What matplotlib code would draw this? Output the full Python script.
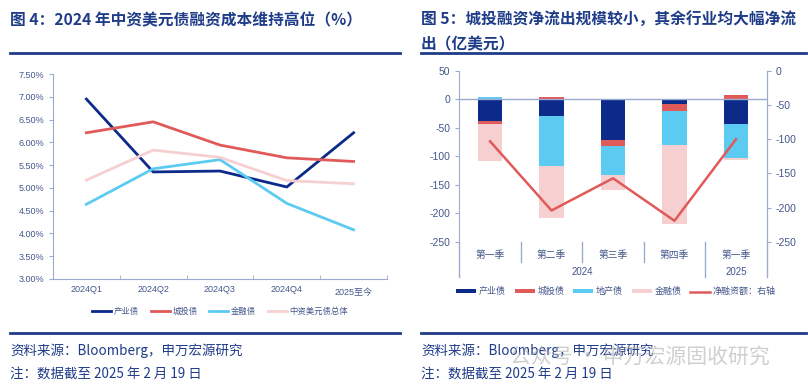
import matplotlib.pyplot as plt
import numpy as np

plt.rcParams['font.family'] = ['Noto Sans CJK SC', 'DejaVu Sans']
tick_font = ['Liberation Sans', 'Noto Sans CJK SC']

# left chart data: financing cost (%)
quarters = ["2024Q1", "2024Q2", "2024Q3", "2024Q4", "2025至今"]
chanye_cost = [6.95, 5.35, 5.37, 5.02, 6.21]
chengtou_cost = [6.21, 6.45, 5.94, 5.66, 5.58]
jinrong_cost = [4.64, 5.42, 5.62, 4.66, 4.08]
total_cost = [5.17, 5.83, 5.67, 5.16, 5.09]

# right chart data: net financing (亿美元)
seasons = ["第一季", "第二季", "第三季", "第四季", "第一季"]
years = ["2024", "2025"]
chanye_net = [-38.5, -29, -72, -8, -42.6]
chengtou_net = [-4.7, 3.5, -10.5, -13.4, 7.6]
dichan_net = [4, -87.6, -50, -59.5, -59.5]
jinrong_net = [-65, -91.7, -27, -137.8, -4.7]
net_total = [-103, -204, -157, -219, -100]

navy = "#0B2A8A"
red = "#E05A5A"
cyan = "#5CCBF2"
pink = "#F6D0D0"
title_c = "#1F3C88"
tick_c = "#44578C"
spine_c = "#9AAAD0"

W, H = 808, 389
fig = plt.figure(figsize=(W / 100, H / 100), dpi=100)

def fx(x):
    return x / W

def fy(y):
    return 1 - y / H

# titles and rules
fig.text(fx(10), fy(20), "图 4：2024 年中资美元债融资成本维持高位（%）", fontsize=11.3,
         fontweight="bold", color=title_c, va="center")
fig.text(fx(421), fy(20), "图 5：城投融资净流出规模较小，其余行业均大幅净流", fontsize=11.3,
         fontweight="bold", color=title_c, va="center")
fig.text(fx(421), fy(44), "出（亿美元）", fontsize=11.3,
         fontweight="bold", color=title_c, va="center")
for x0, x1 in [(10, 400), (421, 806)]:
    fig.add_artist(plt.Line2D([fx(x0), fx(x1)], [fy(53), fy(53)], color=title_c, lw=2))
    fig.add_artist(plt.Line2D([fx(x0), fx(x1)], [fy(333), fy(333)], color=title_c, lw=2))
    fig.text(fx(x0), fy(351), "资料来源：Bloomberg，申万宏源研究", fontsize=9.7, color=title_c, va="center")
    fig.text(fx(x0), fy(375), "注：数据截至 2025 年 2 月 19 日", fontsize=9.7, color=title_c, va="center")
fig.text(fx(510), fy(357), "公众号 · 申万宏源固收研究", fontsize=15, color="#B0B0B0", alpha=0.6, va="center")

# ---- left chart
ax1 = fig.add_axes([fx(53), fy(279), fx(334), (279 - 74) / H])
x = np.arange(len(quarters))
ax1.plot(x, chanye_cost, color=navy, lw=2, label="产业债")
ax1.plot(x, chengtou_cost, color=red, lw=2, label="城投债")
ax1.plot(x, jinrong_cost, color=cyan, lw=2, label="金融债")
ax1.plot(x, total_cost, color=pink, lw=2, label="中资美元债总体")
ax1.set_xlim(-0.5, 4.5)
ax1.set_ylim(3.0, 7.5)
ax1.set_yticks(np.arange(3.0, 7.51, 0.5))
ax1.set_yticklabels([f"{v:.2f}%" for v in np.arange(3.0, 7.51, 0.5)], family=tick_font)
ax1.set_xticks(x)
ax1.set_xticklabels(quarters, family=tick_font)
ax1.get_xticklabels()[-1].set_y(-0.015)
ax1.set_xticks(np.arange(0.5, 4.6, 1), minor=True)
ax1.tick_params(axis="x", which="major", length=0, labelsize=6.5, colors=tick_c, pad=4)
ax1.tick_params(axis="x", which="minor", length=3, direction="in", color=spine_c)
ax1.tick_params(axis="y", length=3, labelsize=6.5, colors=tick_c, color=spine_c)
for s in ["top", "right"]:
    ax1.spines[s].set_visible(False)
for s in ["left", "bottom"]:
    ax1.spines[s].set_color(spine_c)
ax1.legend(loc="center", bbox_to_anchor=(0.5, -0.16), ncol=4, frameon=False,
           fontsize=6, labelcolor=tick_c, handlelength=2.3, columnspacing=1.4,
           handletextpad=0.3)

# ---- right chart
ax2 = fig.add_axes([fx(459.3), fy(242), fx(307.4), (242 - 70.7) / H])
xs = np.arange(len(seasons))
series = [("产业债", chanye_net, navy), ("城投债", chengtou_net, red),
          ("地产债", dichan_net, cyan), ("金融债", jinrong_net, pink)]
pos_base = np.zeros(len(xs))
neg_base = np.zeros(len(xs))
for name, vals, c in series:
    vals = np.array(vals, dtype=float)
    base = np.where(vals >= 0, pos_base, neg_base)
    ax2.bar(xs, vals, bottom=base, width=0.4, color=c, label=name, zorder=2)
    pos_base = pos_base + np.where(vals >= 0, vals, 0)
    neg_base = neg_base + np.where(vals < 0, vals, 0)
ax2.axhline(0, color=spine_c, lw=1, zorder=3)
ax2.set_xlim(-0.5, 4.5)
ax2.set_ylim(-250, 50)
ax2.set_yticks(np.arange(-250, 51, 50))
ax2.set_yticklabels([str(v) for v in np.arange(-250, 51, 50)], family=tick_font)
ax2.set_xticks([])
ax2.tick_params(axis="y", length=3, labelsize=7.5, colors=tick_c, color=spine_c)
ax2.spines["top"].set_visible(False)
ax2.spines["bottom"].set_visible(False)
for s in ["left", "right"]:
    ax2.spines[s].set_color(spine_c)

ax3 = ax2.twinx()
ax3.plot(xs, net_total, color=red, lw=1.8, label="净融资额：右轴", zorder=4)
ax3.set_ylim(-250, 0)
ax3.set_yticks(np.arange(-250, 1, 50))
ax3.set_yticklabels([str(v) for v in np.arange(-250, 1, 50)], family=tick_font)
ax3.tick_params(axis="y", length=3, labelsize=7.5, colors=tick_c, color=spine_c)
for s in ["top", "bottom", "left"]:
    ax3.spines[s].set_visible(False)
ax3.spines["right"].set_color(spine_c)

# multi-level category axis below plot
y_low1 = -0.115
y_low2 = -0.205
for b in [0.2, 0.4, 0.6]:
    ax2.plot([b, b], [0, y_low1], transform=ax2.transAxes, color=spine_c, lw=1, clip_on=False)
for b in [0.0, 0.8, 1.0]:
    ax2.plot([b, b], [0, y_low2], transform=ax2.transAxes, color=spine_c, lw=1, clip_on=False)
for i, lab in enumerate(seasons):
    ax2.text((i + 0.5) / 5, -0.075, lab, transform=ax2.transAxes, ha="center", va="center",
             fontsize=7, color=tick_c)
ax2.text(0.4, -0.175, years[0], transform=ax2.transAxes, ha="center", va="center",
         fontsize=7, color=tick_c, family=tick_font)
ax2.text(0.9, -0.175, years[1], transform=ax2.transAxes, ha="center", va="center",
         fontsize=7, color=tick_c, family=tick_font)

h1, l1 = ax2.get_legend_handles_labels()
h2, l2 = ax3.get_legend_handles_labels()
ax2.legend(h1 + h2, l1 + l2, loc="center", bbox_to_anchor=(0.51, -0.29), ncol=5,
           frameon=False, fontsize=6.5, labelcolor=tick_c, handlelength=2.2,
           handleheight=0.4, columnspacing=1.0, handletextpad=0.3)

fig.savefig("out.png", dpi=100)
